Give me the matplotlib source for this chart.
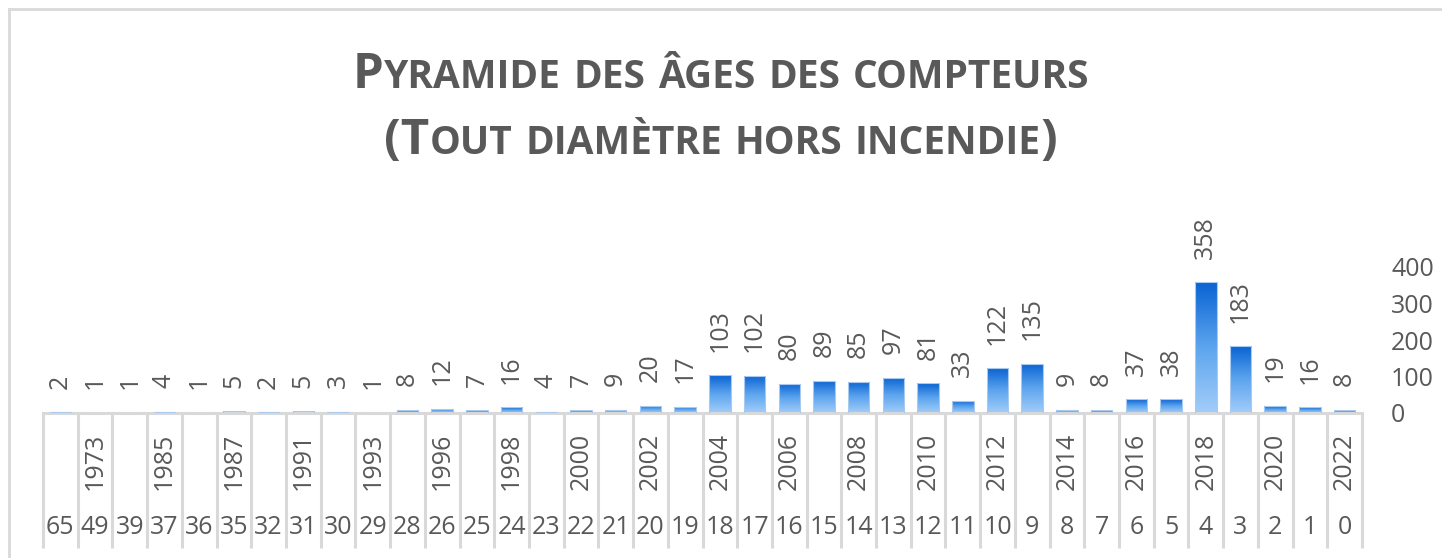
import matplotlib
matplotlib.use("Agg")
import matplotlib.pyplot as plt
import numpy as np
from matplotlib.colors import LinearSegmentedColormap
from matplotlib.transforms import blended_transform_factory

ages = [65, 49, 39, 37, 36, 35, 32, 31, 30, 29, 28, 26, 25, 24, 23, 22, 21, 20, 19,
        18, 17, 16, 15, 14, 13, 12, 11, 10, 9, 8, 7, 6, 5, 4, 3, 2, 1, 0]
years = [1957, 1973, 1983, 1985, 1986, 1987, 1990, 1991, 1992, 1993, 1994, 1996, 1997,
         1998, 1999, 2000, 2001, 2002, 2003, 2004, 2005, 2006, 2007, 2008, 2009, 2010,
         2011, 2012, 2013, 2014, 2015, 2016, 2017, 2018, 2019, 2020, 2021, 2022]
counts = [2, 1, 1, 4, 1, 5, 2, 5, 3, 1, 8, 12, 7, 16, 4, 7, 9, 20, 17,
          103, 102, 80, 89, 85, 97, 81, 33, 122, 135, 9, 8, 37, 38, 358, 183, 19, 16, 8]
yticks = [0, 100, 200, 300, 400]
title_lines = ["Pyramide des âges des compteurs", "(Tout diamètre hors incendie)"]

W, H = 1442, 558
fig = plt.figure(figsize=(W / 100, H / 100), dpi=100)
fig.patch.set_facecolor("white")

GRAY = "#595959"
LINE = "#d9d9d9"
FONT = "Open Sans"
FS = 18

# chart border (top and left)
fig.add_artist(plt.Line2D([9 / W, 9 / W], [0, 1 - 9 / H], transform=fig.transFigure,
                          color="#d9d9d9", lw=2))
fig.add_artist(plt.Line2D([9 / W, 1], [1 - 9 / H, 1 - 9 / H], transform=fig.transFigure,
                          color="#d9d9d9", lw=2))

x0, x1 = 43, 1362
y0, y1 = 413, 267
ax = fig.add_axes([x0 / W, (H - y0) / H, (x1 - x0) / W, (y0 - y1) / H])
n = len(counts)
x = np.arange(n)

bars = ax.bar(x, counts, width=0.62, color="none", edgecolor="#a9c9ef", linewidth=0.8,
              zorder=3)
cmap = LinearSegmentedColormap.from_list("g", ["#a3cdf9", "#5da5ee", "#0a63d3"])
grad = np.linspace(0, 1, 256).reshape(-1, 1)
for b in bars:
    bx, by = b.get_x(), b.get_y()
    bw, bh = b.get_width(), b.get_height()
    im = ax.imshow(grad, extent=(bx, bx + bw, by, by + bh), origin="lower",
                   cmap=cmap, aspect="auto", zorder=2)
    im.set_clip_path(b)

ax.set_xlim(-0.5, n - 0.5)
ax.set_ylim(0, 400)

for xi, v in zip(x, counts):
    ax.annotate(str(v), (xi, v), xytext=(0, 17), textcoords="offset points",
                rotation=90, ha="center", va="bottom", fontsize=FS, color=GRAY,
                family=FONT, annotation_clip=False)

for s in ["top", "left", "right"]:
    ax.spines[s].set_visible(False)
ax.spines["bottom"].set_color(LINE)
ax.spines["bottom"].set_linewidth(2.2)
ax.set_xticks([])
ax.yaxis.tick_right()
ax.set_yticks(yticks)
ax.set_yticklabels([str(t) for t in yticks], family=FONT, fontsize=FS, color=GRAY)
ax.tick_params(axis="y", length=0, pad=21)
for lab in ax.get_yticklabels():
    lab.set_horizontalalignment("left")

# category axis: two levels
tr = blended_transform_factory(ax.transData, ax.transAxes)
ybot = -(548 - 413) / (y0 - y1)
for b in np.arange(-0.5, n, 1.0):
    ax.plot([b, b], [0, ybot], transform=tr, color=LINE, lw=2.2, clip_on=False,
            solid_capstyle="butt")
yr_y = -(461 - 413) / (y0 - y1)
age_y = -(528 - 413) / (y0 - y1)
for i in range(n):
    if i % 2 == 1:
        ax.text(i, yr_y, str(years[i]), transform=tr, rotation=90, ha="center",
                va="center", fontsize=FS, color=GRAY, family=FONT)
    ax.text(i, age_y, str(ages[i]), transform=tr, ha="center", va="center",
            fontsize=FS, color=GRAY, family=FONT)

# small-caps title
renderer = fig.canvas.get_renderer()
BIG, SMALL = 35.5, 28


def smallcaps_line(text, ybase_px):
    runs = []
    for ch in text:
        big = not ch.islower()
        if runs and runs[-1][1] == big:
            runs[-1][0] += ch
        else:
            runs.append([ch, big])
    artists = []
    xpos = 0.0
    for s, big in runs:
        t = fig.text(0, 1 - ybase_px / H, s.upper(), fontsize=BIG if big else SMALL,
                     fontweight="bold", family=FONT, color=GRAY, va="baseline",
                     ha="left")
        bb = t.get_window_extent(renderer)
        artists.append((t, xpos))
        xpos += bb.width
    start = (W - xpos) / 2
    for t, off in artists:
        t.set_x((start + off) / W)


smallcaps_line(title_lines[0], 88)
smallcaps_line(title_lines[1], 154)

fig.savefig("out.png", dpi=100, facecolor="white")
